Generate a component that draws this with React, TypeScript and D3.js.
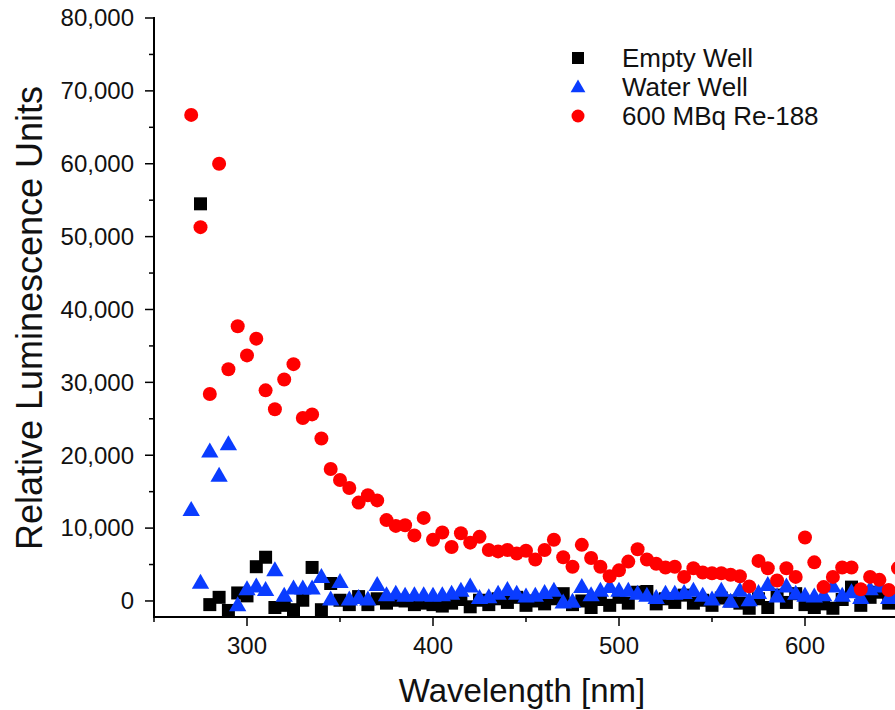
import React from "react";
import * as d3 from "d3";

const wavelengths = [270,275,280,285,290,295,300,305,310,315,320,325,330,335,340,345,350,355,360,365,370,375,380,385,390,395,400,405,410,415,420,425,430,435,440,445,450,455,460,465,470,475,480,485,490,495,500,505,510,515,520,525,530,535,540,545,550,555,560,565,570,575,580,585,590,595,600,605,610,615,620,625,630,635,640,645,650];

const emptyWell: (number | null)[] = [null,54500,-500,500,-1300,1100,700,4700,6000,-900,-600,-1200,100,4600,-1200,2400,100,-500,600,-500,300,-300,100,0,-500,-300,-500,-700,-300,200,-800,100,-500,300,-200,500,-600,0,-400,300,1000,-500,0,-900,200,-600,500,-300,1200,1300,-400,300,-200,800,-300,100,-600,400,0,-300,-1000,300,-900,800,-200,1000,-500,-900,-400,-1000,200,1900,-600,500,1200,-300,600];

const waterWell = [12500,2500,20500,17200,21500,-600,1600,2000,1500,4200,700,1700,1700,1700,3300,200,2600,200,400,200,2200,800,1000,700,800,800,700,800,1000,1400,2000,400,500,1000,1500,1000,600,700,1100,1400,-200,-100,1900,800,1400,1900,1400,1400,1000,700,400,1000,1000,1100,1400,700,200,1400,-100,1400,100,1100,2200,600,2000,1000,700,600,800,2000,700,1200,400,1600,2000,400,800];

const re188 = [66700,51300,28400,60000,31800,37700,33700,36000,28900,26300,30400,32500,25100,25600,22300,18100,16600,15500,13500,14500,13800,11100,10300,10400,9000,11400,8400,9400,7400,9300,8000,8800,7000,6800,7000,6500,6900,5700,7000,8400,6000,4700,7700,5900,4700,3400,4200,5400,7100,5700,5100,4600,4700,3300,4500,3900,3800,3800,3600,3400,2000,5500,4500,2800,4500,3300,8700,5300,1900,3300,4600,4600,1600,3300,2900,1500,4500];

const yTicks = [0,10000,20000,30000,40000,50000,60000,70000,80000];
const xTicks = [300,400,500,600];
const seriesNames = ["Empty Well", "Water Well", "600 MBq Re-188"];

const W = 895, H = 710;
const left = 154, top = 18, bottom = 617;
const x = d3.scaleLinear().domain([250, 660]).range([left, left + 410 * 1.86]);
const y = d3.scaleLinear().domain([-2200, 80000]).range([bottom, top]);

const RED = "#ff0000";
const BLUE = "#0a3cff";
const fmt = d3.format(",");
const font = "'Liberation Sans', Arial, sans-serif";
const narrow = "'Liberation Sans Narrow', 'Liberation Sans', Arial, sans-serif";

const sq = d3.symbol().type(d3.symbolSquare).size(169);
const tri = d3.symbol().type(d3.symbolTriangle).size(130);

export default function App() {
  const yMinor = d3.range(0, 80001, 5000);
  const xMinor = d3.range(250, 661, 50);
  return (
    <svg width={W} height={H} style={{ position: "absolute", left: 0, top: 0, background: "#fff" }}>
      <rect width={W} height={H} fill="#fff" />
      <g>
        {wavelengths.map((w, i) =>
          emptyWell[i] == null ? null : (
            <path key={"e" + i} d={sq()!} transform={`translate(${x(w)},${y(emptyWell[i] as number)})`} fill="#000" />
          )
        )}
      </g>
      <g>
        {wavelengths.map((w, i) => (
          <path key={"w" + i} d={tri()!} transform={`translate(${x(w)},${y(waterWell[i]) + 1})`} fill={BLUE} />
        ))}
      </g>
      <g>
        {wavelengths.map((w, i) => (
          <circle key={"r" + i} cx={x(w)} cy={y(re188[i])} r={7} fill={RED} />
        ))}
      </g>
      <line x1={left} x2={left} y1={top - 1} y2={bottom + 1} stroke="#000" strokeWidth={2} />
      <line x1={left - 1} x2={W} y1={bottom} y2={bottom} stroke="#000" strokeWidth={2} />
      {yMinor.map((v) => (
        <line key={"ym" + v} x1={left} x2={left - (v % 10000 === 0 ? 9 : 5)} y1={y(v)} y2={y(v)} stroke="#000" strokeWidth={1.5} />
      ))}
      {xMinor.map((v) => (
        <line key={"xm" + v} x1={x(v)} x2={x(v)} y1={bottom} y2={bottom + (v % 100 === 0 ? 9 : 5)} stroke="#000" strokeWidth={1.5} />
      ))}
      {yTicks.map((v) => (
        <text key={"yt" + v} x={134} y={y(v)} dy="0.35em" textAnchor="end" fontFamily={font} fontSize={24} fill="#111">
          {fmt(v)}
        </text>
      ))}
      {xTicks.map((v) => (
        <text key={"xt" + v} x={x(v)} y={654} textAnchor="middle" fontFamily={font} fontSize={24} fill="#111">
          {v}
        </text>
      ))}
      <text x={522} y={702} textAnchor="middle" fontFamily={narrow} fontSize={33} fill="#111">
        Wavelength [nm]
      </text>
      <text transform="translate(42,318) rotate(-90)" textAnchor="middle" fontFamily={narrow} fontSize={36} fill="#111">
        Relative Luminescence Units
      </text>
      <g>
        <rect x={572} y={52} width={12} height={12} fill="#000" />
        <path d={d3.symbol().type(d3.symbolTriangle).size(95)()!} transform="translate(578,88)" fill={BLUE} />
        <circle cx={578} cy={116} r={6.5} fill={RED} />
        {seriesNames.map((n, i) => (
          <text key={n} x={622} y={58 + i * 29} dy="0.36em" fontFamily={font} fontSize={26} fill="#111">
            {n}
          </text>
        ))}
      </g>
    </svg>
  );
}
